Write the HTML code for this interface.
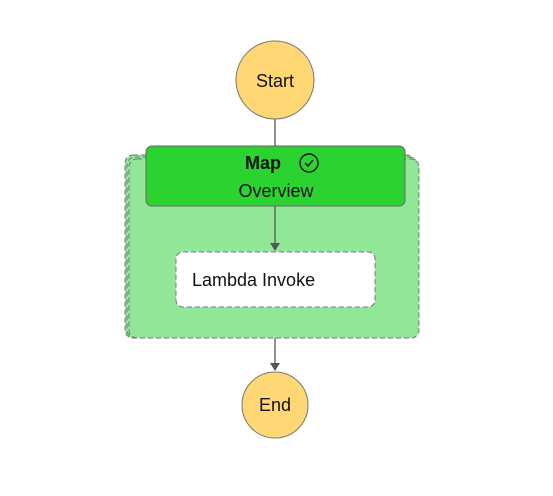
<!DOCTYPE html>
<html><head><style>
body{margin:0;background:#fff;}
svg text{font-family:"Liberation Sans","DejaVu Sans",sans-serif;}
</style></head><body>
<svg width="553" height="491" viewBox="0 0 553 491" xmlns="http://www.w3.org/2000/svg">
<line x1="275" y1="119" x2="275" y2="147" stroke="#555" stroke-width="1.3"/>
<circle cx="275" cy="80" r="39" fill="#ffd875" stroke="#777" stroke-width="1"/>
<text x="275" y="87" font-size="18" text-anchor="middle" fill="#111">Start</text>
<rect x="125" y="155" width="290" height="183" rx="8" fill="#91e797" stroke="#777" stroke-dasharray="5,3"/>
<rect x="127" y="157" width="290" height="181" rx="8" fill="#91e797" stroke="#777" stroke-dasharray="5,3"/>
<rect x="129" y="159" width="290" height="179" rx="8" fill="#91e797" stroke="#777" stroke-dasharray="5,3"/>
<rect x="146" y="146" width="259" height="60" rx="6" fill="#2bd330" stroke="#666"/>
<text x="263" y="169" font-size="18" font-weight="bold" text-anchor="middle" fill="#111">Map</text>
<circle cx="309" cy="163" r="9" fill="none" stroke="#111" stroke-width="1.4"/>
<path d="M305,163 L308,166 L313,160" fill="none" stroke="#111" stroke-width="1.4"/>
<text x="276" y="197" font-size="18" text-anchor="middle" fill="#111">Overview</text>
<line x1="275" y1="206" x2="275" y2="244" stroke="#555" stroke-width="1.3"/>
<path d="M270,243 L280,243 L275,251 Z" fill="#555"/>
<rect x="176" y="252" width="199" height="55" rx="7" fill="#fff" stroke="#777" stroke-dasharray="5,3"/>
<text x="192" y="286" font-size="18" fill="#111">Lambda Invoke</text>
<line x1="275" y1="338" x2="275" y2="364" stroke="#555" stroke-width="1.3"/>
<path d="M270,363 L280,363 L275,371 Z" fill="#555"/>
<circle cx="275" cy="405" r="33" fill="#ffd875" stroke="#777" stroke-width="1"/>
<text x="275" y="411" font-size="18" text-anchor="middle" fill="#111">End</text>
</svg>
</body></html>
